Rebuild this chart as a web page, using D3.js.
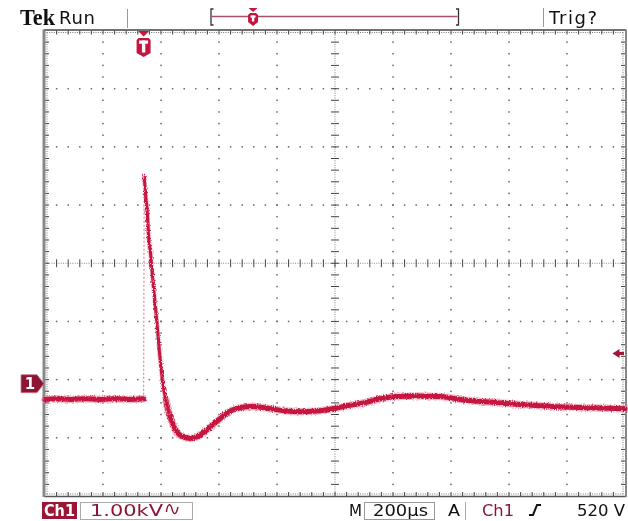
<!DOCTYPE html>
<html>
<head>
<meta charset="utf-8">
<script src="https://cdn.jsdelivr.net/npm/d3@7"></script>
<style>
  body { margin: 0; background: #fff; }
  svg { display: block; }
</style>
</head>
<body>
<svg width="628" height="521"></svg>
<script>
// trace, time in µs (0 = trigger), volts in kV
var traceTime = [-340, -300, -250, -200, -150, -100, -50, 0,
  2, 7, 13, 18, 24, 28, 35, 45, 55, 66, 76,
  87, 99, 116, 139, 162, 185, 219, 254, 299, 334, 374,
  437, 495, 540, 598, 654, 701, 757, 816, 873, 942, 1022, 1091, 1229, 1366, 1504, 1660];
var traceVolt = [-0.27, -0.26, -0.27, -0.26, -0.27, -0.26, -0.27, -0.26,
  3.56, 3.24, 2.93, 2.47, 2.24, 2.0, 1.61, 1.10, 0.53, 0.02, -0.27,
  -0.50, -0.67, -0.84, -0.92, -0.94, -0.91, -0.79, -0.64, -0.47, -0.41, -0.39,
  -0.43, -0.47, -0.48, -0.47, -0.43, -0.38, -0.33, -0.26, -0.22, -0.21, -0.22, -0.27, -0.33, -0.38, -0.41, -0.43];

var timeDomain = [-340, 1660];    // 10 divisions of 200 µs
var voltDomain = [-1.93, 6.07];   // 8 divisions of 1 kV
var timePerDiv = 200;
var voltPerDiv = 1.0;
var trigLevel = 0.52;             // kV

var topLabels = ["Tek", "Run", "Trig?"];
var bottomLabels = ["Ch1", "1.00kV", "M", "200µs", "A", "Ch1", "520 V"];

var svg = d3.select("svg");
var L = 45, R = 625, T = 30.5, B = 496;

var x = d3.scaleLinear().domain(timeDomain).range([L, R]);
var y = d3.scaleLinear().domain(voltDomain).range([B, T]);

var red = "#c5153f", dark = "#8e1434", ink = "#111";

// fuzz for the trace, the scope shows a noisy band rather than a clean line
var fz = svg.append("defs").append("filter").attr("id", "fuzz")
  .attr("x", "-5%").attr("y", "-20%").attr("width", "110%").attr("height", "140%");
fz.append("feTurbulence").attr("type", "fractalNoise").attr("baseFrequency", "0.9 0.6")
  .attr("numOctaves", 1).attr("seed", 3).attr("result", "n");
fz.append("feDisplacementMap").attr("in", "SourceGraphic").attr("in2", "n")
  .attr("scale", 4).attr("xChannelSelector", "R").attr("yChannelSelector", "G");

// ---------- graticule ----------
var grid = svg.append("g");
var xDiv = d3.range(11).map(function(i) { return timeDomain[0] + i * timePerDiv; });
var yDiv = d3.range(9).map(function(i) { return voltDomain[0] + i * voltPerDiv; });
var xMid = xDiv[5], yMid = yDiv[4];

function dot(px, py, s, c) {
  grid.append("rect").attr("x", px - s / 2).attr("y", py - s / 2)
    .attr("width", s).attr("height", s).attr("fill", c);
}

// dotted division lines, a dot every 1/5 div
xDiv.slice(1, 10).forEach(function(t, i) {
  if (i == 4) return;
  d3.range(1, 40).forEach(function(k) { dot(x(t), y(voltDomain[0] + k * voltPerDiv / 5), 1.5, "#666"); });
});
yDiv.slice(1, 8).forEach(function(v, i) {
  if (i == 3) return;
  d3.range(1, 50).forEach(function(k) { dot(x(timeDomain[0] + k * timePerDiv / 5), y(v), 1.5, "#666"); });
});

// centre axes: fine dots plus minor tick marks
d3.range(1, 200).forEach(function(k) { dot(x(xMid), y(voltDomain[0] + k * voltPerDiv / 25), 1, "#888"); });
d3.range(1, 250).forEach(function(k) { dot(x(timeDomain[0] + k * timePerDiv / 25), y(yMid), 1, "#888"); });
d3.range(1, 40).forEach(function(k) {
  var py = y(voltDomain[0] + k * voltPerDiv / 5);
  grid.append("line").attr("x1", x(xMid) - 4).attr("x2", x(xMid) + 4)
    .attr("y1", py).attr("y2", py).attr("stroke", "#444").attr("stroke-width", 1);
});
d3.range(1, 50).forEach(function(k) {
  var px = x(timeDomain[0] + k * timePerDiv / 5);
  grid.append("line").attr("y1", y(yMid) - 4).attr("y2", y(yMid) + 4)
    .attr("x1", px).attr("x2", px).attr("stroke", "#444").attr("stroke-width", 1);
});

// frame with ticks pointing inwards
d3.range(1, 250).forEach(function(k) {
  var px = x(timeDomain[0] + k * timePerDiv / 25);
  dot(px, T + 2, 1, "#777"); dot(px, B - 2, 1, "#777");
});
d3.range(1, 200).forEach(function(k) {
  var py = y(voltDomain[0] + k * voltPerDiv / 25);
  dot(L + 2, py, 1, "#777"); dot(R - 2, py, 1, "#777");
});
d3.range(1, 50).forEach(function(k) {
  var px = x(timeDomain[0] + k * timePerDiv / 5);
  grid.append("line").attr("x1", px).attr("x2", px).attr("y1", T).attr("y2", T + 4).attr("stroke", "#444");
  grid.append("line").attr("x1", px).attr("x2", px).attr("y1", B).attr("y2", B - 4).attr("stroke", "#444");
});
d3.range(1, 40).forEach(function(k) {
  var py = y(voltDomain[0] + k * voltPerDiv / 5);
  grid.append("line").attr("y1", py).attr("y2", py).attr("x1", L).attr("x2", L + 4).attr("stroke", "#444");
  grid.append("line").attr("y1", py).attr("y2", py).attr("x1", R).attr("x2", R - 4).attr("stroke", "#444");
});
grid.append("line").attr("x1", L - 1).attr("x2", R + 1).attr("y1", T - 0.5).attr("y2", T - 0.5).attr("stroke", "#444").attr("stroke-width", 1.5);
grid.append("line").attr("x1", L - 1).attr("x2", R + 1).attr("y1", B + 0.5).attr("y2", B + 0.5).attr("stroke", "#555").attr("stroke-width", 1.5);
grid.append("line").attr("x1", L - 1).attr("x2", L - 1).attr("y1", T - 1).attr("y2", B + 1).attr("stroke", "#888").attr("stroke-width", 3);
grid.append("line").attr("x1", R + 1).attr("x2", R + 1).attr("y1", T - 1).attr("y2", B + 1).attr("stroke", "#888").attr("stroke-width", 2);

// ---------- trace ----------
var pts = traceTime.map(function(t, i) { return [t, traceVolt[i]]; });
var pre = pts.filter(function(d) { return d[0] <= 0; });
var steep = pts.filter(function(d) { return d[0] > 0 && d[0] <= 76; });
var post = pts.filter(function(d) { return d[0] >= 76; });

var line = d3.line()
  .x(function(d) { return x(d[0]); })
  .y(function(d) { return y(d[1]); })
  .curve(d3.curveMonotoneX);

// fast edge, only a few samples so it shows dotted
svg.append("line")
  .attr("x1", x(pre[pre.length - 1][0])).attr("y1", y(pre[pre.length - 1][1]))
  .attr("x2", x(steep[0][0])).attr("y2", y(steep[0][1]))
  .attr("stroke", "#e7849c").attr("stroke-width", 1.2).attr("stroke-dasharray", "2,2");

var trace = svg.append("g").attr("fill", "none").attr("stroke-linejoin", "round")
  .attr("stroke-linecap", "round").attr("filter", "url(#fuzz)");

[pre, post].forEach(function(seg) {
  trace.append("path").attr("d", line(seg)).attr("stroke", "#e88aa2").attr("stroke-width", 7.5).attr("opacity", 0.6);
  trace.append("path").attr("d", line(seg)).attr("stroke", red).attr("stroke-width", 5);
});
trace.append("path").attr("d", line(steep.concat([post[1]]))).attr("stroke", "#e88aa2").attr("stroke-width", 4.5).attr("opacity", 0.6);
trace.append("path").attr("d", line(steep.concat([post[1]]))).attr("stroke", red).attr("stroke-width", 3);

// ---------- markers ----------
function shield(g, cx, top, w, h, col) {
  var p = [[cx - w / 2, top + 2], [cx - w / 2 + 2, top], [cx + w / 2 - 2, top], [cx + w / 2, top + 2],
           [cx + w / 2, top + h - 4], [cx, top + h], [cx - w / 2, top + h - 4]];
  g.append("polygon").attr("points", p.join(" ")).attr("fill", col);
  // white T
  g.append("rect").attr("x", cx - w / 2 + 2.5).attr("y", top + 2.5).attr("width", w - 5).attr("height", h * 0.17).attr("fill", "#fff");
  g.append("rect").attr("x", cx - w * 0.12).attr("y", top + 2.5).attr("width", w * 0.24).attr("height", h - 7).attr("fill", "#fff");
}

// trigger position marker
var mk = svg.append("g");
var tx = x(0);
mk.append("polygon").attr("points", [[tx - 5.5, 31], [tx + 5.5, 31], [tx, 36.5]].join(" ")).attr("fill", red);
shield(mk, tx, 38, 14, 19, red);

// channel 1 ground marker
var gy = y(0);
mk.append("polygon")
  .attr("points", [[21, gy - 9], [37, gy - 9], [44, gy], [37, gy + 9], [21, gy + 9]].join(" "))
  .attr("fill", dark).attr("stroke", "#c77a8c").attr("stroke-width", 0.8);
mk.append("text").attr("x", 30).attr("y", gy + 5.5).attr("text-anchor", "middle")
  .attr("font-family", "DejaVu Sans").attr("font-weight", "bold").attr("font-size", 15)
  .attr("fill", "#fff").text("1");

// trigger level arrow
var ty = y(trigLevel);
mk.append("polygon").attr("points", [[612.5, ty], [619.5, ty - 4.5], [619.5, ty + 4.5]].join(" ")).attr("fill", "#a0163a");
mk.append("rect").attr("x", 619).attr("y", ty - 1.5).attr("width", 5).attr("height", 3).attr("fill", "#a0163a");

// ---------- top status line ----------
var topBar = svg.append("g").attr("fill", ink);
topBar.append("text").attr("x", 20).attr("y", 24.5).attr("font-family", "Liberation Serif")
  .attr("font-weight", "bold").attr("font-size", 23).attr("textLength", 35)
  .attr("lengthAdjust", "spacingAndGlyphs").text(topLabels[0]);
topBar.append("text").attr("x", 59).attr("y", 23.5).attr("font-family", "DejaVu Sans")
  .attr("font-size", 18).attr("textLength", 36).text(topLabels[1]);
topBar.append("line").attr("x1", 127.5).attr("x2", 127.5).attr("y1", 9).attr("y2", 28).attr("stroke", "#999");
topBar.append("line").attr("x1", 543.5).attr("x2", 543.5).attr("y1", 8).attr("y2", 27).attr("stroke", "#999");
topBar.append("text").attr("x", 549).attr("y", 23.5).attr("font-family", "DejaVu Sans")
  .attr("font-size", 18).attr("textLength", 48).text(topLabels[2]);

// record window bracket
var brL = 211, brR = 458.5;
topBar.append("path").attr("d", "M" + (brL + 2.5) + ",9 H" + brL + " V25 H" + (brL + 2.5))
  .attr("fill", "none").attr("stroke", "#333").attr("stroke-width", 1.3);
topBar.append("path").attr("d", "M" + (brR - 2.5) + ",9 H" + brR + " V25 H" + (brR - 2.5))
  .attr("fill", "none").attr("stroke", "#333").attr("stroke-width", 1.3);
topBar.append("line").attr("x1", brL + 1).attr("x2", brR - 1).attr("y1", 16.5).attr("y2", 16.5)
  .attr("stroke", "#a55066").attr("stroke-width", 1.5);
var rx = brL + (brR - brL) * (tx - L) / (R - L);
topBar.append("polygon").attr("points", [[rx - 4.5, 8], [rx + 4.5, 8], [rx, 12]].join(" ")).attr("fill", red);
shield(topBar, rx, 13, 10, 13, red);

// ---------- bottom status line ----------
var bot = svg.append("g").attr("font-family", "DejaVu Sans").attr("font-size", 15);
function label(px, w, txt, col, bold) {
  bot.append("text").attr("x", px).attr("y", 515.5).attr("fill", col)
    .attr("font-weight", bold ? "bold" : "normal")
    .attr("textLength", w).attr("lengthAdjust", "spacingAndGlyphs").text(txt);
}
bot.append("rect").attr("x", 42).attr("y", 502).attr("width", 35).attr("height", 17).attr("fill", "#9b1535");
label(44, 31, bottomLabels[0], "#fff", true);
bot.append("rect").attr("x", 80.5).attr("y", 502.5).attr("width", 112).attr("height", 17)
  .attr("fill", "none").attr("stroke", "#aaa");
label(90, 73, bottomLabels[1], dark, false);
bot.append("path").attr("d", "M166.5,512 C167.5,503 170.5,503 172,509 S176,516 178,507")
  .attr("fill", "none").attr("stroke", dark).attr("stroke-width", 1.4);

label(349, 13, bottomLabels[2], ink, false);
bot.append("rect").attr("x", 364.5).attr("y", 502.5).attr("width", 70).attr("height", 17)
  .attr("fill", "none").attr("stroke", "#999");
label(373, 55, bottomLabels[3], ink, false);
label(448, 12, bottomLabels[4], ink, false);
bot.append("line").attr("x1", 465.5).attr("x2", 465.5).attr("y1", 502).attr("y2", 520).attr("stroke", "#aaa");
label(482, 32, bottomLabels[5], dark, false);
bot.append("path").attr("d", "M529,515 H533 L537,505 H541")
  .attr("fill", "none").attr("stroke", ink).attr("stroke-width", 2);
label(577, 48, bottomLabels[6], ink, false);
</script>
</body>
</html>
